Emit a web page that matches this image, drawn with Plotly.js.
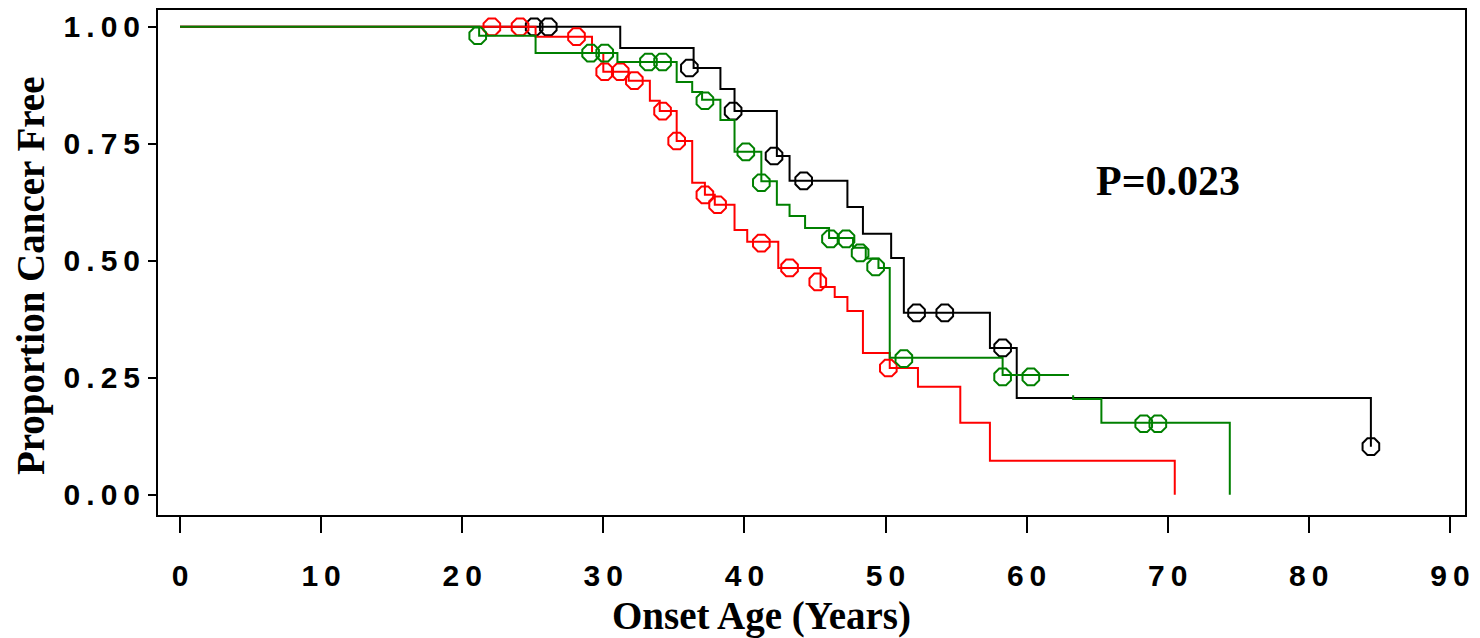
<!DOCTYPE html>
<html>
<head>
<meta charset="utf-8">
<script src="https://cdn.plot.ly/plotly-3.0.1.min.js"></script>
<style>html,body{margin:0;padding:0;background:#fff;}#chart{width:1480px;height:638px;}</style>
</head>
<body>
<div id="chart"></div>
<script>
// Kaplan-Meier step data (event times and survival after each event)
const blackTime = [0, 31.2, 36.4, 38.3, 39.3, 42.3, 43.2, 47.3, 48.4, 50.4, 51.3, 57.4, 59.3, 84.4];
const blackSurv = [1.0, 0.955, 0.912, 0.867, 0.820, 0.724, 0.671, 0.615, 0.558, 0.506, 0.389, 0.314, 0.207, 0.103];
const blackCensTime = [25.1, 26.1, 36.1, 39.2, 42.1, 44.2, 52.2, 54.2, 58.3, 84.4];
const blackCensSurv = [1.0, 1.0, 0.912, 0.820, 0.724, 0.671, 0.389, 0.389, 0.314, 0.103];

const redTime = [0, 25.2, 29.2, 30.0, 31.8, 33.3, 34.0, 35.2, 36.3, 37.2, 37.9, 39.3, 40.2, 42.4, 45.4, 46.4, 47.3, 48.4, 50.3, 52.3, 55.3, 57.4, 70.5];
const redSurv = [1.0, 0.979, 0.944, 0.904, 0.885, 0.842, 0.820, 0.756, 0.667, 0.641, 0.620, 0.566, 0.541, 0.485, 0.444, 0.423, 0.393, 0.303, 0.271, 0.231, 0.154, 0.073, 0];
const redCensTime = [22.1, 24.1, 28.1, 30.1, 31.2, 32.2, 34.2, 35.2, 37.2, 38.1, 41.2, 43.2, 45.2, 50.2];
const redCensSurv = [1.0, 1.0, 0.979, 0.904, 0.904, 0.885, 0.820, 0.756, 0.641, 0.620, 0.538, 0.485, 0.455, 0.271];

const greenTime = [0, 21.2, 25.2, 31.0, 35.2, 36.3, 37.0, 38.3, 39.3, 41.2, 42.3, 43.2, 44.3, 46.0, 47.7, 48.6, 49.5, 50.3, 58.3, 63.0, null, 63.3, 63.3, 65.3, 74.4];
const greenSurv = [1.0, 0.981, 0.944, 0.925, 0.882, 0.861, 0.844, 0.801, 0.733, 0.670, 0.620, 0.596, 0.570, 0.549, 0.528, 0.505, 0.485, 0.293, 0.256, 0.256, null, 0.213, 0.205, 0.154, 0];
const greenCensTime = [21.1, 29.1, 30.1, 33.2, 34.2, 37.2, 40.1, 41.2, 46.1, 47.2, 48.2, 49.3, 51.3, 58.3, 60.3, 68.3, 69.3];
const greenCensSurv = [0.981, 0.944, 0.944, 0.925, 0.925, 0.842, 0.733, 0.667, 0.547, 0.547, 0.517, 0.487, 0.291, 0.252, 0.252, 0.152, 0.152];

const xTickVals = [0, 10, 20, 30, 40, 50, 60, 70, 80, 90];
const xTickText = ["0", "10", "20", "30", "40", "50", "60", "70", "80", "90"];
const yTickVals = [0, 0.25, 0.5, 0.75, 1.0];
const yTickText = ["0.00", "0.25", "0.50", "0.75", "1.00"];

const pValueText = "P=0.023";
const xTitle = "Onset Age (Years)";
const yTitle = "Proportion Cancer Free";

// spread characters a little, as in the reference tick labels
function spaced(s) { return s.split('').join('\u2009'); }

function stepTrace(x, y, color) {
  return {x: x, y: y, type: 'scatter', mode: 'lines', line: {shape: 'hv', color: color, width: 2}, connectgaps: false, hoverinfo: 'skip', showlegend: false};
}
function censTrace(x, y, color) {
  return {x: x, y: y, type: 'scatter', mode: 'markers', marker: {symbol: 'octagon-open', size: 18, color: color, line: {color: color, width: 2}}, hoverinfo: 'skip', showlegend: false};
}

const traces = [
  stepTrace(blackTime, blackSurv, '#000000'),
  censTrace(blackCensTime, blackCensSurv, '#000000'),
  stepTrace(redTime, redSurv, '#ff0000'),
  censTrace(redCensTime, redCensSurv, '#ff0000'),
  stepTrace(greenTime, greenSurv, '#008000'),
  censTrace(greenCensTime, greenCensSurv, '#008000')
];

const tickFont = {family: 'Liberation Sans, Arial, sans-serif', size: 30, weight: 'bold', color: '#000'};
const serifFont = {family: 'Liberation Serif, Times New Roman, serif', size: 39, weight: 'bold', color: '#000'};
const pFont = {family: 'Liberation Serif, Times New Roman, serif', size: 42, weight: 'bold', color: '#000'};

const layout = {
  width: 1480, height: 638,
  margin: {l: 158, r: 15, t: 10, b: 123},
  paper_bgcolor: '#fff', plot_bgcolor: '#fff',
  showlegend: false,
  xaxis: {
    range: [-1.56, 91.07], showgrid: false, zeroline: false,
    showline: true, mirror: true, linecolor: '#000', linewidth: 2,
    ticks: 'outside', ticklen: 16, tickwidth: 2, tickcolor: '#000',
    tickvals: xTickVals, ticktext: xTickText.map(spaced), tickfont: tickFont,
    ticklabelstandoff: 17
  },
  yaxis: {
    range: [-0.043, 1.036], showgrid: false, zeroline: false,
    showline: true, mirror: true, linecolor: '#000', linewidth: 2,
    ticks: 'outside', ticklen: 8, tickwidth: 2, tickcolor: '#000',
    tickvals: yTickVals, ticktext: yTickText.map(spaced), tickfont: tickFont,
    ticklabelstandoff: 2
  },
  annotations: [
    {xref: 'x', yref: 'y', x: 70, y: 0.671, text: '<b>' + pValueText + '</b>', showarrow: false, font: pFont, xanchor: 'center', yanchor: 'middle'},
    {xref: 'paper', yref: 'paper', x: 0.4614, y: -0.200, text: '<b>' + xTitle + '</b>', showarrow: false, font: serifFont, xanchor: 'center', yanchor: 'middle'},
    {xref: 'paper', yref: 'paper', x: -0.0972, y: 0.475, text: '<b>' + yTitle + '</b>', showarrow: false, font: serifFont, textangle: -90, xanchor: 'center', yanchor: 'middle'}
  ]
};

Plotly.newPlot('chart', traces, layout, {staticPlot: true, displayModeBar: false});
</script>
</body>
</html>
